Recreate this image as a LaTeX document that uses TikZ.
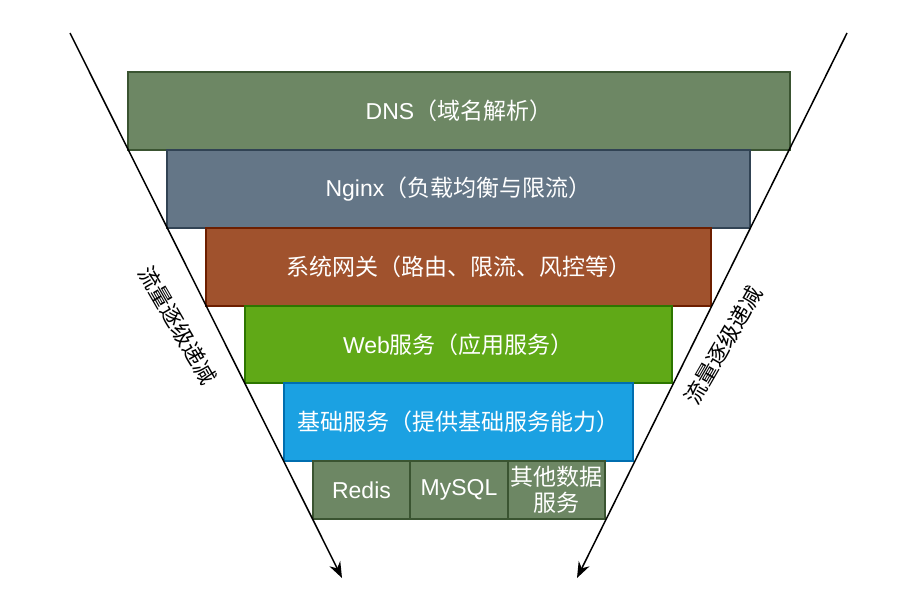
\documentclass[tikz,border=0pt]{standalone}
\usepackage{fontspec}
\setmainfont{Liberation Sans}
\newfontfamily\cjk{Noto Sans CJK SC}
\usetikzlibrary{arrows.meta}
\definecolor{gF}{HTML}{6D8764}\definecolor{gS}{HTML}{3A5431}
\definecolor{bF}{HTML}{647687}\definecolor{bS}{HTML}{314354}
\definecolor{rF}{HTML}{A0522D}\definecolor{rS}{HTML}{6D1F00}
\definecolor{lF}{HTML}{60A917}\definecolor{lS}{HTML}{2D7600}
\definecolor{cF}{HTML}{1BA1E2}\definecolor{cS}{HTML}{006EAF}
\tikzset{
  layer/.style={draw=#1S, fill=#1F, line width=1.3pt, text=white, inner sep=1pt, font=\fontsize{23}{27}\selectfont},
  flowarrow/.style={line width=1.5pt, -{Stealth[length=16pt,width=12pt]}},
  sidelabel/.style={font=\fontsize{22}{26}\selectfont\cjk, text=black, inner sep=0pt}
}
\begin{document}
\begin{tikzpicture}[x=1pt,y=-1pt]
\useasboundingbox (0,0) rectangle (901,590);
\node[layer=g, minimum width=662pt, minimum height=78pt] (dns) at (459,111) {DNS{\cjk（域名解析）}};
\node[layer=b, minimum width=583pt, minimum height=78pt] (ngx) at (458.5,189) {Nginx{\cjk（负载均衡与限流）}};
\node[layer=r, minimum width=505pt, minimum height=78pt] (gw) at (458.5,267) {\cjk 系统网关（路由、限流、风控等）};
\node[layer=l, minimum width=427pt, minimum height=77pt] (web) at (458.5,344.5) {Web{\cjk 服务（应用服务）}};
\node[layer=c, minimum width=349pt, minimum height=78pt] (base) at (458.5,422) {\cjk 基础服务（提供基础服务能力）};
\node[layer=g, minimum width=97pt, minimum height=58pt] (redis) at (361.5,490) {Redis};
\node[layer=g, minimum width=98pt, minimum height=58pt] (mysql) at (459,490) {MySQL};
\node[layer=g, minimum width=97pt, minimum height=58pt, align=center, font=\fontsize{23}{26}\selectfont\cjk] (other) at (556.5,490) {其他数据\\服务};
\coordinate (ls) at (70,33);
\coordinate (le) at (342,578);
\coordinate (rs) at (847,33);
\coordinate (re) at (577,578);
\draw[flowarrow] (ls) -- (le);
\draw[flowarrow] (rs) -- (re);
\node[sidelabel, rotate=-60] (lt) at (178,325) {流量逐级递减};
\node[sidelabel, rotate=60] (rt) at (723,345) {流量逐级递减};
\end{tikzpicture}
\end{document}
